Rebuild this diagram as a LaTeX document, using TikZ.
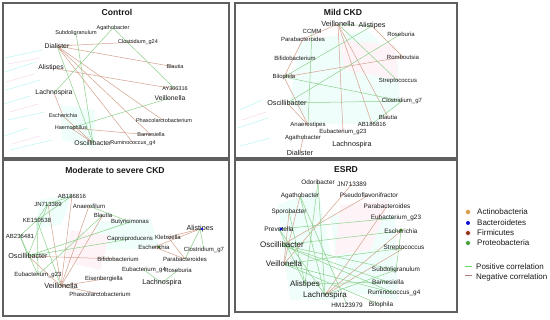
\documentclass[tikz,border=0pt]{standalone}
\usepackage{fontspec}
\setmainfont{Liberation Sans}
\usetikzlibrary{backgrounds}
\definecolor{posc}{RGB}{140,208,140}
\definecolor{negc}{RGB}{212,160,140}
\definecolor{framec}{RGB}{95,95,95}
\definecolor{txt}{RGB}{25,25,25}
\definecolor{hullc}{RGB}{240,254,251}
\definecolor{hullp}{RGB}{254,244,248}
\definecolor{ghostc}{RGB}{170,243,243}
\definecolor{ghostp}{RGB}{250,210,230}
\definecolor{actc}{RGB}{214,160,60}
\definecolor{bacc}{RGB}{15,15,215}
\definecolor{firc}{RGB}{140,55,20}
\definecolor{proc}{RGB}{75,155,45}
\tikzset{
  lb/.style={inner sep=0pt, text=txt, font=\fontsize{#1}{#1}\selectfont},
  ttl/.style={inner sep=0pt, text=txt, font=\fontsize{8.6}{9}\selectfont\bfseries},
  frame/.style={draw=framec, line width=1.1pt},
  poscor/.style={draw=posc, line width=0.5pt},
  negcor/.style={draw=negc, line width=0.5pt},
  hull/.style={fill=hullc, draw=none},
  hullpk/.style={fill=hullp, draw=none},
  ghost/.style={draw=ghostc, line width=0.4pt},
  ghostpk/.style={draw=ghostp, line width=0.4pt},
  leg/.style={inner sep=0pt, anchor=west, text=txt, font=\fontsize{8}{8}\selectfont},
  vdot/.style={circle, inner sep=0pt, minimum size=2.6pt},
}
\begin{document}
\begin{tikzpicture}[x=1pt,y=-1pt]
\useasboundingbox (0,0) rectangle (550,320);
\begin{scope}[on background layer]
\fill[white] (0,0) rectangle (550,320);
% ---------------- faint hulls and ghost strokes ----------------
\fill[hull] (300,42) -- (368,30) -- (398,62) -- (400,104) -- (372,124) -- (310,124) -- (290,100) -- cycle;
\fill[hullpk] (340,40) -- (395,45) -- (398,80) -- (345,70) -- cycle;
\fill[hull] (40,200) -- (72,194) -- (62,224) -- (35,230) -- cycle;
\fill[hull] (95,222) -- (150,218) -- (160,248) -- (100,250) -- cycle;
\fill[hullpk] (70,230) -- (110,235) -- (100,270) -- (65,262) -- cycle;
\fill[hull] (278,205) -- (318,190) -- (340,300) -- (290,300) -- cycle;
\fill[hull] (330,215) -- (395,215) -- (398,300) -- (340,290) -- cycle;
\fill[hullpk] (340,205) -- (390,200) -- (370,250) -- (335,255) -- cycle;
\fill[hull] (60,105) -- (95,110) -- (95,148) -- (62,140) -- cycle;
\foreach \p/\q in {{(5,58)/(42,50)},{(5,72)/(36,62)},{(6,90)/(40,80)},{(4,104)/(30,96)},{(8,120)/(44,112)},{(4,136)/(28,128)},{(10,150)/(52,140)},{(240,110)/(262,100)},{(238,128)/(268,118)},{(240,146)/(270,138)}}
  \draw[ghost] \p -- \q;
\foreach \p/\q in {{(8,64)/(40,58)},{(6,82)/(34,74)},{(10,112)/(38,104)},{(12,144)/(40,136)},{(242,120)/(266,112)}}
  \draw[ghostpk] \p -- \q;
\end{scope}

% ---------------- frames ----------------
\draw[frame] (3,3) rectangle (229,158);
\draw[frame] (235,3) rectangle (457,158);
\draw[frame] (3,160) rectangle (229,316);
\draw[frame] (235,160) rectangle (457,312);

% ================= Control =================
\node[ttl] (c-title) at (117,12) {Control};
\node[lb=5.5] (c-aga) at (113,28) {Agathobacter};
\node[lb=5.5] (c-sub) at (76,33) {Subdoligranulum};
\node[lb=6.8] (c-dia) at (57,46) {Dialister};
\node[lb=5.5] (c-clo) at (138,42) {Clostridium\_g24};
\node[lb=5.5] (c-bla) at (175,67) {Blautia};
\node[lb=6.8] (c-ali) at (51,68) {Alistipes};
\node[lb=5.5] (c-ay) at (175,89) {AY306316};
\node[lb=6.8] (c-lac) at (54,93) {Lachnospira};
\node[lb=6.8] (c-vei) at (170,98) {Veillonella};
\node[lb=5.5] (c-esc) at (63,116) {Escherichia};
\node[lb=5.5] (c-pha) at (164,121) {Phascolarctobacterium};
\node[lb=5.5] (c-hae) at (71,128) {Haemophilus};
\node[lb=5.5] (c-bar) at (151,135) {Barnesiella};
\node[lb=6.8] (c-osc) at (93,143) {Oscillibacter};
\node[lb=5.5] (c-rum) at (133,143) {Ruminococcus\_g4};
\begin{scope}[on background layer]
\foreach \a/\b in {c-dia/c-clo,c-dia/c-bla,c-dia/c-pha,c-dia/c-bar,c-dia/c-rum,c-ali/c-ay,c-lac/c-esc,c-esc/c-osc,c-hae/c-bar,c-hae/c-osc}
  \draw[negcor] (\a.center) -- (\b.center);
\foreach \a/\b in {c-aga/c-ay,c-aga/c-lac,c-sub/c-osc,c-dia/c-osc,c-vei/c-hae}
  \draw[poscor] (\a.center) -- (\b.center);
\end{scope}

% ================= Mild CKD =================
\node[ttl] (m-title) at (343,12) {Mild CKD};
\node[lb=7.4] (m-vei) at (338,24) {Veillonella};
\node[lb=7.2] (m-ali) at (372,26) {Alistipes};
\node[lb=6] (m-ccm) at (312,31) {CCMM};
\node[lb=6] (m-par) at (303,39) {Parabacteroides};
\node[lb=6] (m-ros) at (401,34) {Roseburia};
\node[lb=6] (m-bif) at (295,58) {Bifidobacterium};
\node[lb=6] (m-rom) at (403,57) {Romboutsia};
\node[lb=6] (m-bil) at (284,77) {Bilophila};
\node[lb=6] (m-str) at (398,81) {Streptococcus};
\node[lb=7.2] (m-osc) at (287,103) {Oscillibacter};
\node[lb=6] (m-clo) at (402,101) {Clostridium\_g7};
\node[lb=6] (m-bla) at (388,117) {Blautia};
\node[lb=6] (m-ab) at (372,124) {AB186816};
\node[lb=6] (m-ana) at (308,125) {Anaerostipes};
\node[lb=6] (m-eub) at (343,132) {Eubacterium\_g23};
\node[lb=6] (m-aga) at (303,138) {Agathobacter};
\node[lb=7.2] (m-lac) at (352,145) {Lachnospira};
\node[lb=7.2] (m-dia) at (300,153) {Dialister};
\begin{scope}[on background layer]
\foreach \a/\b in {m-vei/m-par,m-vei/m-eub,m-vei/m-ab,m-vei/m-bla,m-ali/m-rom,m-rom/m-bil,m-par/m-bil,m-bil/m-ana,m-osc/m-ana,m-aga/m-dia}
  \draw[negcor] (\a.center) -- (\b.center);
\foreach \a/\b in {m-vei/m-ali,m-vei/m-str,m-ali/m-bil,m-ros/m-osc,m-ccm/m-ana,m-bil/m-clo,m-osc/m-clo,m-clo/m-ab}
  \draw[poscor] (\a.center) -- (\b.center);
\end{scope}

% ================= Moderate to severe CKD =================
\node[ttl] (s-title) at (115,170) {Moderate to severe CKD};
\node[lb=6] (s-ab1) at (72,196) {AB186816};
\node[lb=6] (s-jn) at (48,204) {JN713389};
\node[lb=6] (s-ana) at (89,206) {Anaerofilum};
\node[lb=6] (s-bla) at (103,215) {Blautia};
\node[lb=6] (s-ke) at (37,220) {KE159538};
\node[lb=6] (s-but) at (130,222) {Butyricimonas};
\node[lb=6] (s-ab2) at (20,236) {AB236481};
\node[lb=6] (s-cap) at (130,239) {Caproiproducens};
\node[lb=7.2] (s-ali) at (200,229) {Alistipes};
\node[lb=6] (s-kle) at (168,237) {Klebsiella};
\node[lb=6] (s-esc) at (154,247) {Escherichia};
\node[lb=6] (s-clo) at (204,250) {Clostridium\_g7};
\node[lb=7.2] (s-osc) at (28,256) {Oscillibacter};
\node[lb=6] (s-bif) at (118,259) {Bifidobacterium};
\node[lb=6] (s-par) at (185,259) {Parabacteroides};
\node[lb=6] (s-eu4) at (144,270) {Eubacterium\_g4};
\node[lb=6] (s-ros) at (178,270) {Roseburia};
\node[lb=6] (s-eu23) at (38,275) {Eubacterium\_g23};
\node[lb=6] (s-eis) at (104,279) {Eisenbergiella};
\node[lb=7.2] (s-lac) at (162,283) {Lachnospira};
\node[lb=7.4] (s-vei) at (61,286) {Veillonella};
\node[lb=6] (s-pha) at (100,294) {Phascolarctobacterium};
\node[vdot, fill=bacc] (s-alid) at (202,229) {};
\node[vdot, fill=proc!60!black] (s-escd) at (159,247) {};
\begin{scope}[on background layer]
\foreach \a/\b in {s-vei/s-ab1,s-vei/s-ana,s-vei/s-bla,s-vei/s-jn,s-vei/s-eis,s-vei/s-pha,s-vei/s-osc,s-osc/s-bif,s-ali/s-kle,s-kle/s-par,s-esc/s-par,s-esc/s-ali}
  \draw[negcor] (\a.center) -- (\b.center);
\foreach \a/\b in {s-jn/s-ab1,s-ke/s-ab1,s-ke/s-jn,s-ab2/s-ke,s-ab2/s-osc,s-ab2/s-eu23,s-ke/s-vei,s-jn/s-osc,s-ke/s-eu23,s-osc/s-but,s-osc/s-cap,s-eu23/s-bla,s-ana/s-but,s-ali/s-clo,s-ali/s-par,s-eu4/s-lac,s-ros/s-lac}
  \draw[poscor] (\a.center) -- (\b.center);
\end{scope}

% ================= ESRD =================
\node[ttl] (e-title) at (346,170) {ESRD};
\node[lb=6.4] (e-odo) at (318,182) {Odoribacter};
\node[lb=6.4] (e-jn) at (352,184) {JN713389};
\node[lb=6.4] (e-pse) at (369,195) {Pseudoflavonifractor};
\node[lb=6.4] (e-aga) at (300,196) {Agathobacter};
\node[lb=6.4] (e-par) at (387,206) {Parabacteroides};
\node[lb=6.4] (e-spo) at (289,212) {Sporobacter};
\node[lb=6.4] (e-eub) at (396,218) {Eubacterium\_g23};
\node[lb=6.6] (e-pre) at (279,229) {Prevotella};
\node[lb=6.4] (e-esc) at (401,231) {Escherichia};
\node[lb=8] (e-osc) at (282,245) {Oscillibacter};
\node[lb=6.4] (e-str) at (404,248) {Streptococcus};
\node[lb=8] (e-vei) at (284,264) {Veillonella};
\node[lb=6.4] (e-sub) at (396,270) {Subdoligranulum};
\node[lb=6.4] (e-bar) at (388,282) {Barnesiella};
\node[lb=8] (e-ali) at (305,284) {Alistipes};
\node[lb=6.4] (e-rum) at (394,293) {Ruminococcus\_g4};
\node[lb=8] (e-lac) at (325,295) {Lachnospira};
\node[lb=6.4] (e-hm) at (347,305) {HM123979};
\node[lb=6.4] (e-bil) at (381,305) {Bilophila};
\node[vdot, fill=bacc, minimum size=3.4pt] (e-pred) at (281,229) {};
\node[vdot, fill=proc!80!black, minimum size=3.4pt] (e-escd) at (401,230) {};
\begin{scope}[on background layer]
\foreach \a/\b in {e-jn/e-vei,e-pse/e-osc,e-par/e-lac,e-esc/e-lac,e-str/e-lac,e-spo/e-vei,e-aga/e-vei}
  \draw[negcor] (\a.center) -- (\b.center);
\foreach \a/\b in {e-odo/e-ali,e-odo/e-lac,e-aga/e-lac,e-aga/e-hm,e-spo/e-ali,e-pre/e-eub,e-pre/e-ali,e-pre/e-lac,e-osc/e-esc,e-osc/e-sub,e-osc/e-bar,e-vei/e-str,e-vei/e-rum,e-vei/e-bil,e-esc/e-sub,e-lac/e-sub,e-ali/e-bar,e-osc/e-rum}
  \draw[poscor] (\a.center) -- (\b.center);
\end{scope}

% ================= Legend =================
\fill[ghostp!60] (468,212) circle (3pt);
\fill[ghostp!80] (468,233) circle (3pt);
\fill[ghostc!40] (468,243) circle (3pt);
\node[vdot, fill=actc, minimum size=4pt] (l-act) at (468,212) {};
\node[vdot, fill=bacc, minimum size=4pt] (l-bac) at (468,223) {};
\node[vdot, fill=firc, minimum size=4pt] (l-fir) at (468,233) {};
\node[vdot, fill=proc, minimum size=4pt] (l-pro) at (468,243) {};
\node[leg] (t-act) at (477,212) {Actinobacteria};
\node[leg] (t-bac) at (477,223) {Bacteroidetes};
\node[leg] (t-fir) at (477,233) {Firmicutes};
\node[leg] (t-pro) at (477,243) {Proteobacteria};
\coordinate (p1) at (465,267);
\coordinate (p2) at (472,267);
\coordinate (n1) at (465,276);
\coordinate (n2) at (472,276);
\draw[draw=posc!70!green, line width=1pt] (p1) -- (p2);
\draw[draw=negc!80!black, line width=1pt] (n1) -- (n2);
\node[leg] (t-pos) at (476,267) {Positive correlation};
\node[leg] (t-neg) at (476,277) {Negative correlation};
\end{tikzpicture}
\end{document}
